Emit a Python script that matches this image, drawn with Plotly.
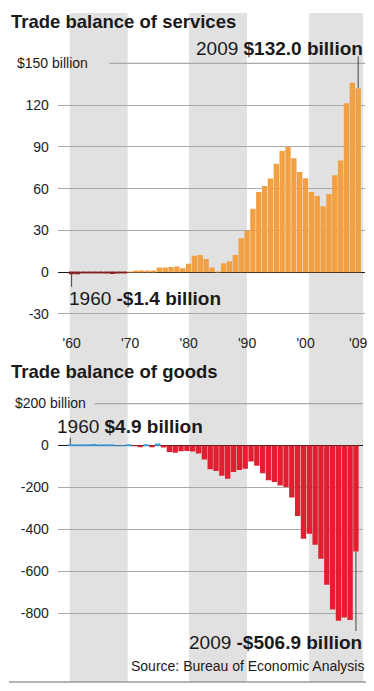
import plotly.graph_objects as go

# ---------------- data ----------------
YEARS = list(range(1960, 2010))

SERVICES = [-1.4, -1.4, -1.0, -1.0, -0.6, -0.3, -0.8, -1.3, -0.4, -0.5,
            0.3, 1.0, 1.0, 1.0, 1.2, 3.4, 3.4, 3.8, 4.1, 2.9,
            6.0, 11.8, 12.4, 9.4, 3.4, 0.3, 6.5, 7.9, 12.4, 24.4,
            30.0, 45.6, 57.6, 61.9, 67.2, 77.8, 87.1, 90.0, 81.8, 72.0,
            67.4, 57.6, 54.7, 47.3, 56.2, 69.6, 80.2, 121.4, 136.0, 132.0]

GOODS = [4.9, 5.6, 4.5, 5.2, 6.8, 5.0, 3.8, 3.8, 0.6, 0.6,
         2.6, -2.3, -6.4, 0.9, -5.5, 8.9, -9.5, -31.1, -34.5, -27.5,
         -26.5, -29.0, -38.0, -67.5, -113.0, -122.5, -145.0, -159.5, -127.0, -117.0,
         -111.0, -76.5, -96.9, -132.5, -166.5, -175.0, -191.0, -198.5, -248.2, -336.3,
         -446.0, -421.5, -474.5, -541.0, -664.5, -783.0, -837.0, -821.0, -834.0, -506.9]

SERV_TICKS = [-30, 0, 30, 60, 90, 120]
SERV_TOP_TICK = 150
GOODS_TICKS = [-800, -600, -400, -200, 0]
GOODS_TOP_TICK = 200
X_TICK_YEARS = [1960, 1970, 1980, 1990, 2000, 2009]
X_TICK_TEXT = ["'60", "'70", "'80", "'90", "'00", "'09"]

# ---------------- styling helpers ----------------
W, H = 374, 691
FONT = "Liberation Sans, Arial, Helvetica, sans-serif"
TXT = "#1a1a1a"
GRID = "#a9a9a9"
BAND = "#e1e1e1"
ORANGE = "#f2a043"
DARKRED = "#8c1f1f"
RED = "#e01f31"
BLUE = "#3d9bd4"


def px_x(p):
    return p / W


def px_y(p):
    return 1 - p / H


serv_colors = [ORANGE if v >= 0 else DARKRED for v in SERVICES]
goods_colors = [BLUE if v >= 0 else RED for v in GOODS]

fig = go.Figure()
fig.add_trace(go.Bar(x=YEARS, y=SERVICES, marker=dict(color=serv_colors, line=dict(width=0)),
                     xaxis="x", yaxis="y", hoverinfo="x+y"))
fig.add_trace(go.Bar(x=YEARS, y=GOODS, marker=dict(color=goods_colors, line=dict(width=0)),
                     xaxis="x2", yaxis="y2", hoverinfo="x+y"))

axis_font = dict(family=FONT, size=14, color="#222")

fig.update_layout(
    width=W, height=H,
    margin=dict(l=0, r=0, t=0, b=0),
    paper_bgcolor="white",
    plot_bgcolor="rgba(0,0,0,0)",
    showlegend=False,
    bargap=0.08,
    xaxis=dict(domain=[px_x(58), px_x(367)], range=[1957.62, 2010.17], anchor="y",
               showgrid=False, zeroline=False, showline=False,
               tickvals=X_TICK_YEARS, ticktext=X_TICK_TEXT, tickfont=axis_font,
               ticks="outside", ticklen=2, tickcolor="rgba(0,0,0,0)"),
    yaxis=dict(domain=[px_y(327.9), px_y(49.4)], range=[-40, 160], anchor="x",
               showgrid=True, gridcolor=GRID, gridwidth=1.2,
               zeroline=True, zerolinecolor="#1a1a1a", zerolinewidth=1.2,
               tickvals=SERV_TICKS, ticktext=[str(v) for v in SERV_TICKS], tickfont=axis_font,
               ticks="outside", ticklen=5, tickcolor="rgba(0,0,0,0)"),
    xaxis2=dict(domain=[px_x(58), px_x(365)], range=[1957.833, 2010.22], anchor="y2",
                showgrid=False, zeroline=False, showline=False, showticklabels=False),
    yaxis2=dict(domain=[px_y(681.9), px_y(397.3)], range=[-1129, 230], anchor="x2",
                showgrid=True, gridcolor=GRID, gridwidth=1.2,
                zeroline=True, zerolinecolor="#1a1a1a", zerolinewidth=1.2,
                tickvals=GOODS_TICKS, ticktext=[str(v) for v in GOODS_TICKS], tickfont=axis_font,
                ticks="outside", ticklen=5, tickcolor="rgba(0,0,0,0)"),
)

shapes = []
# decade shading bands (background decoration), pixel-placed
for left_px, right_px in [(70, 128.3), (190, 248.3), (310.7, 365)]:
    shapes.append(dict(type="rect", xref="paper", yref="paper",
                       x0=px_x(left_px), x1=px_x(right_px), y0=px_y(682), y1=px_y(13),
                       fillcolor=BAND, line=dict(width=0), layer="below"))
# top gridlines which start after their long labels
shapes.append(dict(type="line", xref="paper", yref="y", x0=px_x(110), x1=px_x(367),
                   y0=SERV_TOP_TICK, y1=SERV_TOP_TICK, line=dict(color=GRID, width=1.2), layer="below"))
shapes.append(dict(type="line", xref="paper", yref="y2", x0=px_x(95), x1=px_x(365),
                   y0=GOODS_TOP_TICK, y1=GOODS_TOP_TICK, line=dict(color=GRID, width=1.2), layer="below"))
# leader lines
LEAD = dict(color="#444", width=1)
shapes.append(dict(type="line", xref="x", yref="y", x0=YEARS[-1], x1=YEARS[-1],
                   y0=SERVICES[-1], y1=155, line=LEAD))
shapes.append(dict(type="line", xref="x", yref="y", x0=YEARS[0], x1=YEARS[0],
                   y0=SERVICES[0], y1=-10.5, line=LEAD))
shapes.append(dict(type="line", xref="x2", yref="y2", x0=YEARS[0], x1=YEARS[0],
                   y0=GOODS[0], y1=37, line=LEAD))
shapes.append(dict(type="line", xref="x2", yref="y2", x0=YEARS[-1], x1=YEARS[-1],
                   y0=GOODS[-1], y1=-886, line=LEAD))
# bottom rule
shapes.append(dict(type="line", xref="paper", yref="paper", x0=px_x(9), x1=px_x(368),
                   y0=px_y(682), y1=px_y(682), line=dict(color="#9a9a9a", width=1.5)))
fig.update_layout(shapes=shapes)


def ann(text, xpx, ypx, anchor, size):
    return dict(text=text, xref="paper", yref="paper", x=px_x(xpx), y=px_y(ypx),
                xanchor=anchor, yanchor="middle", showarrow=False,
                font=dict(family=FONT, size=size, color=TXT))


def fmt_money(v):
    sign = "-" if v < 0 else ""
    return f"{sign}${abs(v):.1f} billion"


annotations = [
    ann("<b>Trade balance of services</b>", 9.3, 22, "left", 18.5),
    ann("<b>Trade balance of goods</b>", 9.3, 372, "left", 18.5),
    ann(f"${SERV_TOP_TICK} billion", 15, 63.3, "left", 14),
    ann(f"${GOODS_TOP_TICK} billion", 13, 403.3, "left", 14),
    ann(f"{YEARS[-1]} <b>{fmt_money(SERVICES[-1])}</b>", 367, 48, "right", 19),
    ann(f"{YEARS[0]} <b>{fmt_money(SERVICES[0])}</b>", 67, 298.5, "left", 19),
    ann(f"{YEARS[0]} <b>{fmt_money(GOODS[0])}</b>", 55.5, 426, "left", 19),
    ann(f"{YEARS[-1]} <b>{fmt_money(GOODS[-1])}</b>", 366, 642.5, "right", 19),
    ann("Source: Bureau of Economic Analysis", 368, 666, "right", 14),
]
fig.update_layout(annotations=annotations)

fig.write_html("out.html", config={"displayModeBar": False},
               post_script="document.body.style.margin='0';document.body.style.overflow='hidden';")
